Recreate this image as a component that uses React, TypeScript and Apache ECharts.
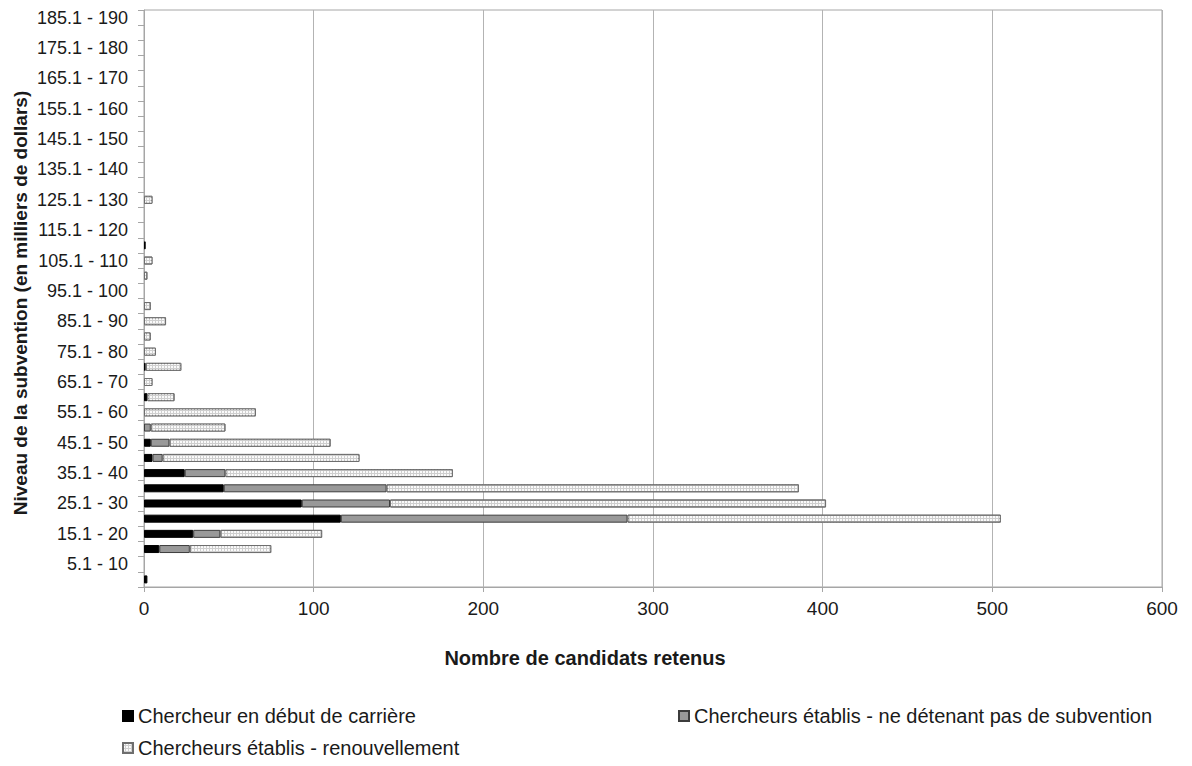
import React, { useEffect, useRef } from "react";
import * as echarts from "echarts";

const categories = [
  "0 - 5", "5.1 - 10", "10.1 - 15", "15.1 - 20", "20.1 - 25", "25.1 - 30", "30.1 - 35", "35.1 - 40",
  "40.1 - 45", "45.1 - 50", "50.1 - 55", "55.1 - 60", "60.1 - 65", "65.1 - 70", "70.1 - 75", "75.1 - 80",
  "80.1 - 85", "85.1 - 90", "90.1 - 95", "95.1 - 100", "100.1 - 105", "105.1 - 110", "110.1 - 115", "115.1 - 120",
  "120.1 - 125", "125.1 - 130", "130.1 - 135", "135.1 - 140", "140.1 - 145", "145.1 - 150", "150.1 - 155", "155.1 - 160",
  "160.1 - 165", "165.1 - 170", "170.1 - 175", "175.1 - 180", "180.1 - 185", "185.1 - 190",
];

const debutCarriere = [
  2, 0, 9, 29, 116, 93, 47, 24, 5, 4, 0, 0, 2, 0, 1, 0,
  0, 0, 0, 0, 0, 0, 1, 0, 0, 0, 0, 0, 0, 0, 0, 0,
  0, 0, 0, 0, 0, 0,
];

const etablisSansSubvention = [
  0, 0, 18, 16, 169, 52, 96, 24, 6, 11, 4, 0, 0, 0, 0, 0,
  0, 0, 0, 0, 0, 0, 0, 0, 0, 0, 0, 0, 0, 0, 0, 0,
  0, 0, 0, 0, 0, 0,
];

const etablisRenouvellement = [
  0, 0, 48, 60, 220, 257, 243, 134, 116, 95, 44, 66, 16, 5, 21, 7,
  4, 13, 4, 0, 2, 5, 0, 0, 0, 5, 0, 0, 0, 0, 0, 0,
  0, 0, 0, 0, 0, 0,
];

const seriesNames = [
  "Chercheur en début de carrière",
  "Chercheurs établis - ne détenant pas de subvention",
  "Chercheurs établis - renouvellement",
];

const xTitle = "Nombre de candidats retenus";
const yTitle = "Niveau de la subvention (en milliers de dollars)";

const FONT = "'Liberation Sans', Arial, sans-serif";
const TEXT = "#1a1a1a";

const noZero = (arr: number[]) => arr.map((v) => (v === 0 ? "-" : v));

export default function App() {
  const ref = useRef<HTMLDivElement>(null);

  useEffect(() => {
    if (!ref.current) return;
    const chart = echarts.init(ref.current, undefined, { renderer: "svg" });
    const legendBase = {
      orient: "horizontal",
      padding: 0,
      itemWidth: 10,
      itemHeight: 10,
      icon: "rect",
      selectedMode: false,
      textStyle: { fontFamily: FONT, fontSize: 20, color: TEXT },
    };
    chart.setOption({
      animation: false,
      backgroundColor: "#ffffff",
      textStyle: { fontFamily: FONT },
      grid: {
        left: 144,
        right: 30,
        top: 10,
        bottom: 179,
        show: true,
        borderColor: "#a6a6a6",
        borderWidth: 1,
        containLabel: false,
      },
      legend: [
        { ...legendBase, data: [seriesNames[0]], left: 122, top: 706 },
        { ...legendBase, data: [seriesNames[1]], left: 678, top: 706 },
        { ...legendBase, data: [seriesNames[2]], left: 122, top: 738 },
      ],
      xAxis: {
        type: "value",
        min: 0,
        max: 600,
        interval: 100,
        axisLine: { show: true, lineStyle: { color: "#a6a6a6", width: 1 } },
        axisTick: { show: true, length: 5, lineStyle: { color: "#a6a6a6" } },
        axisLabel: { fontFamily: FONT, fontSize: 19, color: TEXT, margin: 12 },
        splitLine: { show: true, lineStyle: { color: "#b3b3b3", width: 1 } },
      },
      yAxis: {
        type: "category",
        data: categories,
        axisLine: { show: true, lineStyle: { color: "#a6a6a6", width: 1 } },
        axisTick: { show: true, interval: 0, length: 6, lineStyle: { color: "#a6a6a6" } },
        axisLabel: {
          fontFamily: FONT,
          fontSize: 18,
          color: TEXT,
          margin: 16,
          interval: (index: number) => index % 2 === 1,
        },
        splitLine: { show: false },
      },
      graphic: [
        {
          type: "text",
          x: 585,
          y: 658,
          style: {
            text: xTitle,
            font: `bold 20px ${FONT}`,
            fill: TEXT,
            textAlign: "center",
            textVerticalAlign: "middle",
          },
        },
        {
          type: "text",
          x: 20,
          y: 303,
          rotation: Math.PI / 2,
          style: {
            text: yTitle,
            font: `bold 19px ${FONT}`,
            fill: TEXT,
            textAlign: "center",
            textVerticalAlign: "middle",
          },
        },
      ],
      series: [
        {
          name: seriesNames[0],
          type: "bar",
          stack: "total",
          barWidth: 8,
          data: noZero(debutCarriere),
          itemStyle: { color: "#000000", borderColor: "#000000", borderWidth: 1 },
        },
        {
          name: seriesNames[1],
          type: "bar",
          stack: "total",
          barWidth: 8,
          data: noZero(etablisSansSubvention),
          itemStyle: { color: "#999999", borderColor: "#3c3c3c", borderWidth: 1 },
        },
        {
          name: seriesNames[2],
          type: "bar",
          stack: "total",
          barWidth: 8,
          data: noZero(etablisRenouvellement),
          itemStyle: {
            color: "#cfcfcf",
            borderColor: "#6e6e6e",
            borderWidth: 1,
            decal: {
              symbol: "rect",
              symbolSize: 1,
              color: "#fafafa",
              dashArrayX: [2, 1],
              dashArrayY: [2, 1],
              rotation: 0,
            },
          },
        },
      ],
    });
    return () => chart.dispose();
  }, []);

  return <div ref={ref} style={{ width: 1192, height: 766, position: "absolute", left: 0, top: 0 }} />;
}
